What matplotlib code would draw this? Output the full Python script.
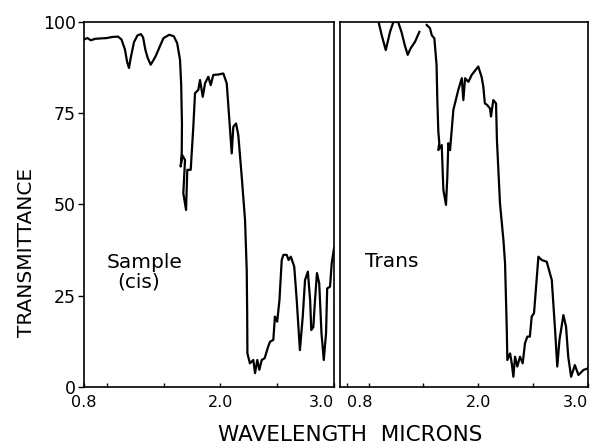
import numpy as np
import matplotlib.pyplot as plt

# === Data (wavelength in microns, transmittance %) ===
cis_wavelength = [0.80, 0.83, 0.86, 0.90, 0.95, 1.00, 1.05, 1.10, 1.13, 1.16,
                  1.18, 1.196, 1.21, 1.24, 1.27, 1.30, 1.32, 1.34, 1.36, 1.387,
                  1.41, 1.43, 1.47, 1.50, 1.55, 1.59, 1.62, 1.645, 1.655, 1.662,
                  1.660, 1.651, 1.665, 1.689, 1.674, 1.698, 1.709, 1.739, 1.762, 1.777,
                  1.806, 1.821, 1.845, 1.865, 1.894, 1.915, 1.938, 1.98, 2.026, 2.056,
                  2.079, 2.100, 2.114, 2.138, 2.158, 2.188, 2.217, 2.232, 2.236, 2.238,
                  2.26, 2.29, 2.305, 2.325, 2.343, 2.364, 2.39, 2.42, 2.437, 2.466,
                  2.48, 2.50, 2.52, 2.54, 2.555, 2.584, 2.60, 2.62, 2.65, 2.672,
                  2.70, 2.725, 2.745, 2.77, 2.79, 2.80, 2.818, 2.833, 2.85, 2.87,
                  2.89, 2.91, 2.93, 2.94, 2.965, 2.98, 3.00]
cis_transmittance = [95.2, 95.6, 95.0, 95.4, 95.5, 95.6, 95.9, 96.0, 95.2, 92.5,
                     89.0, 87.4, 90.0, 94.5, 96.3, 96.7, 95.8, 92.4, 90.2, 88.3,
                     89.5, 90.6, 93.5, 95.6, 96.5, 96.1, 94.2, 89.6, 83.0, 72.0,
                     64.1, 60.4, 63.5, 62.2, 53.1, 48.5, 59.5, 59.5, 71.3, 80.5,
                     81.4, 84.1, 79.5, 83.2, 85.0, 82.7, 85.5, 85.6, 85.9, 83.2,
                     73.2, 64.0, 71.3, 72.2, 69.0, 57.6, 45.8, 32.0, 20.0, 9.2,
                     6.5, 7.4, 3.8, 7.4, 4.7, 7.4, 7.9, 11.0, 12.4, 12.9,
                     19.3, 17.9, 23.8, 34.8, 36.2, 36.2, 34.8, 35.7, 33.0, 23.8,
                     10.1, 19.3, 29.3, 31.6, 23.8, 15.6, 16.4, 23.8, 31.2, 28.4,
                     14.7, 7.4, 14.7, 27.0, 27.5, 33.9, 38.0]

# NaN marks the short pen lift in the trans trace
trans_wavelength = [1.06, 1.09, 1.12, 1.157, 1.196, 1.226, 1.27, 1.30, 1.33, 1.357,
                    1.384, 1.424, 1.463, np.nan, 1.53, 1.56, 1.576, 1.60, 1.62, 1.627,
                    1.636, 1.645, 1.636, 1.667, 1.682, 1.706, 1.718, 1.727, 1.743, 1.773,
                    1.818, 1.85, 1.864, 1.88, 1.91, 1.94, 2.00, 2.03, 2.046, 2.06,
                    2.08, 2.107, 2.116, 2.137, 2.162, 2.17, 2.198, 2.23, 2.244, 2.26,
                    2.265, 2.29, 2.305, 2.32, 2.335, 2.356, 2.38, 2.405, 2.426, 2.447,
                    2.47, 2.487, 2.508, 2.527, 2.548, 2.578, 2.624, 2.67, 2.70, 2.72,
                    2.74, 2.776, 2.80, 2.82, 2.846, 2.88, 2.913, 2.96, 3.00]
trans_transmittance = [103.0, 100.2, 96.4, 92.3, 97.3, 100.0, 100.0, 97.3, 93.7, 91.0,
                       92.8, 94.6, 97.3, np.nan, 99.2, 98.3, 96.4, 95.5, 88.2, 78.6,
                       70.0, 66.8, 64.9, 66.3, 54.0, 49.9, 57.6, 66.8, 64.9, 75.9,
                       81.4, 84.6, 78.6, 84.6, 83.6, 85.5, 87.8, 85.0, 82.3, 77.7,
                       77.3, 76.3, 74.1, 78.6, 77.7, 67.7, 50.3, 40.0, 33.9, 15.6,
                       7.4, 9.2, 6.5, 2.8, 8.3, 5.6, 8.3, 6.5, 12.0, 13.8,
                       13.8, 19.3, 20.2, 27.5, 35.7, 34.8, 34.3, 29.3, 15.6, 5.6,
                       12.9, 19.7, 16.5, 8.3, 2.8, 6.0, 3.3, 4.7, 5.1]

y_ticks = [0, 25, 50, 75, 100]
x_major = [0.8, 2.0, 3.0]
x_minor = [1.0, 1.5, 2.5]

# === Figure with two side-by-side panels ===
W, H = 597, 446
fig = plt.figure(figsize=(W / 100, H / 100), dpi=100)
ax1 = fig.add_axes([84 / W, 1 - 387 / H, 250 / W, 365 / H])
ax2 = fig.add_axes([340 / W, 1 - 387 / H, 248 / W, 365 / H])

ax1.plot(cis_wavelength, cis_transmittance, color="black", linewidth=1.6)
ax2.plot(trans_wavelength, trans_transmittance, color="black", linewidth=1.6)

ax1.set_xlim(0.8, 3.0)
ax2.set_xlim(0.74, 3.0)

for ax in (ax1, ax2):
    ax.set_ylim(0, 100)
    for sp in ax.spines.values():
        sp.set_linewidth(1.2)
    ax.set_xticks(x_major)
    ax.set_xticks(x_minor, minor=True)
    ax.set_xticklabels(["0.8", "2.0", "3.0"])
    ax.tick_params(axis="x", which="both", direction="in", length=3,
                   width=1.0, pad=6, labelsize=11.5)
    # 3.0 sits at the right frame, keep it inside the figure / off the next panel
    ax.get_xticklabels()[-1].set_horizontalalignment("right")

ax1.set_yticks(y_ticks)
ax1.set_yticklabels([str(v) for v in y_ticks])
ax1.tick_params(axis="y", direction="out", length=4, width=1.0, pad=2,
                labelsize=12.5)
ax2.set_yticks([])

# right panel's 0.8 is pushed clear of the left panel's 3.0
ax2.get_xticklabels()[0].set_horizontalalignment("left")

# === Panel captions and axis titles ===
fig.text(107 / W, 1 - 268 / H, "Sample", fontsize=14.5, ha="left", va="baseline")
fig.text(117 / W, 1 - 287 / H, "(cis)", fontsize=14.5, ha="left", va="baseline")
fig.text(365 / W, 1 - 267 / H, "Trans", fontsize=14.5, ha="left", va="baseline")

fig.text(27 / W, 1 - 252 / H, "TRANSMITTANCE", rotation=90, fontsize=14.5,
         ha="center", va="center")
fig.text(350 / W, 1 - 435 / H, "WAVELENGTH  MICRONS", fontsize=15.5,
         ha="center", va="center")

fig.savefig("out.png", dpi=100)
